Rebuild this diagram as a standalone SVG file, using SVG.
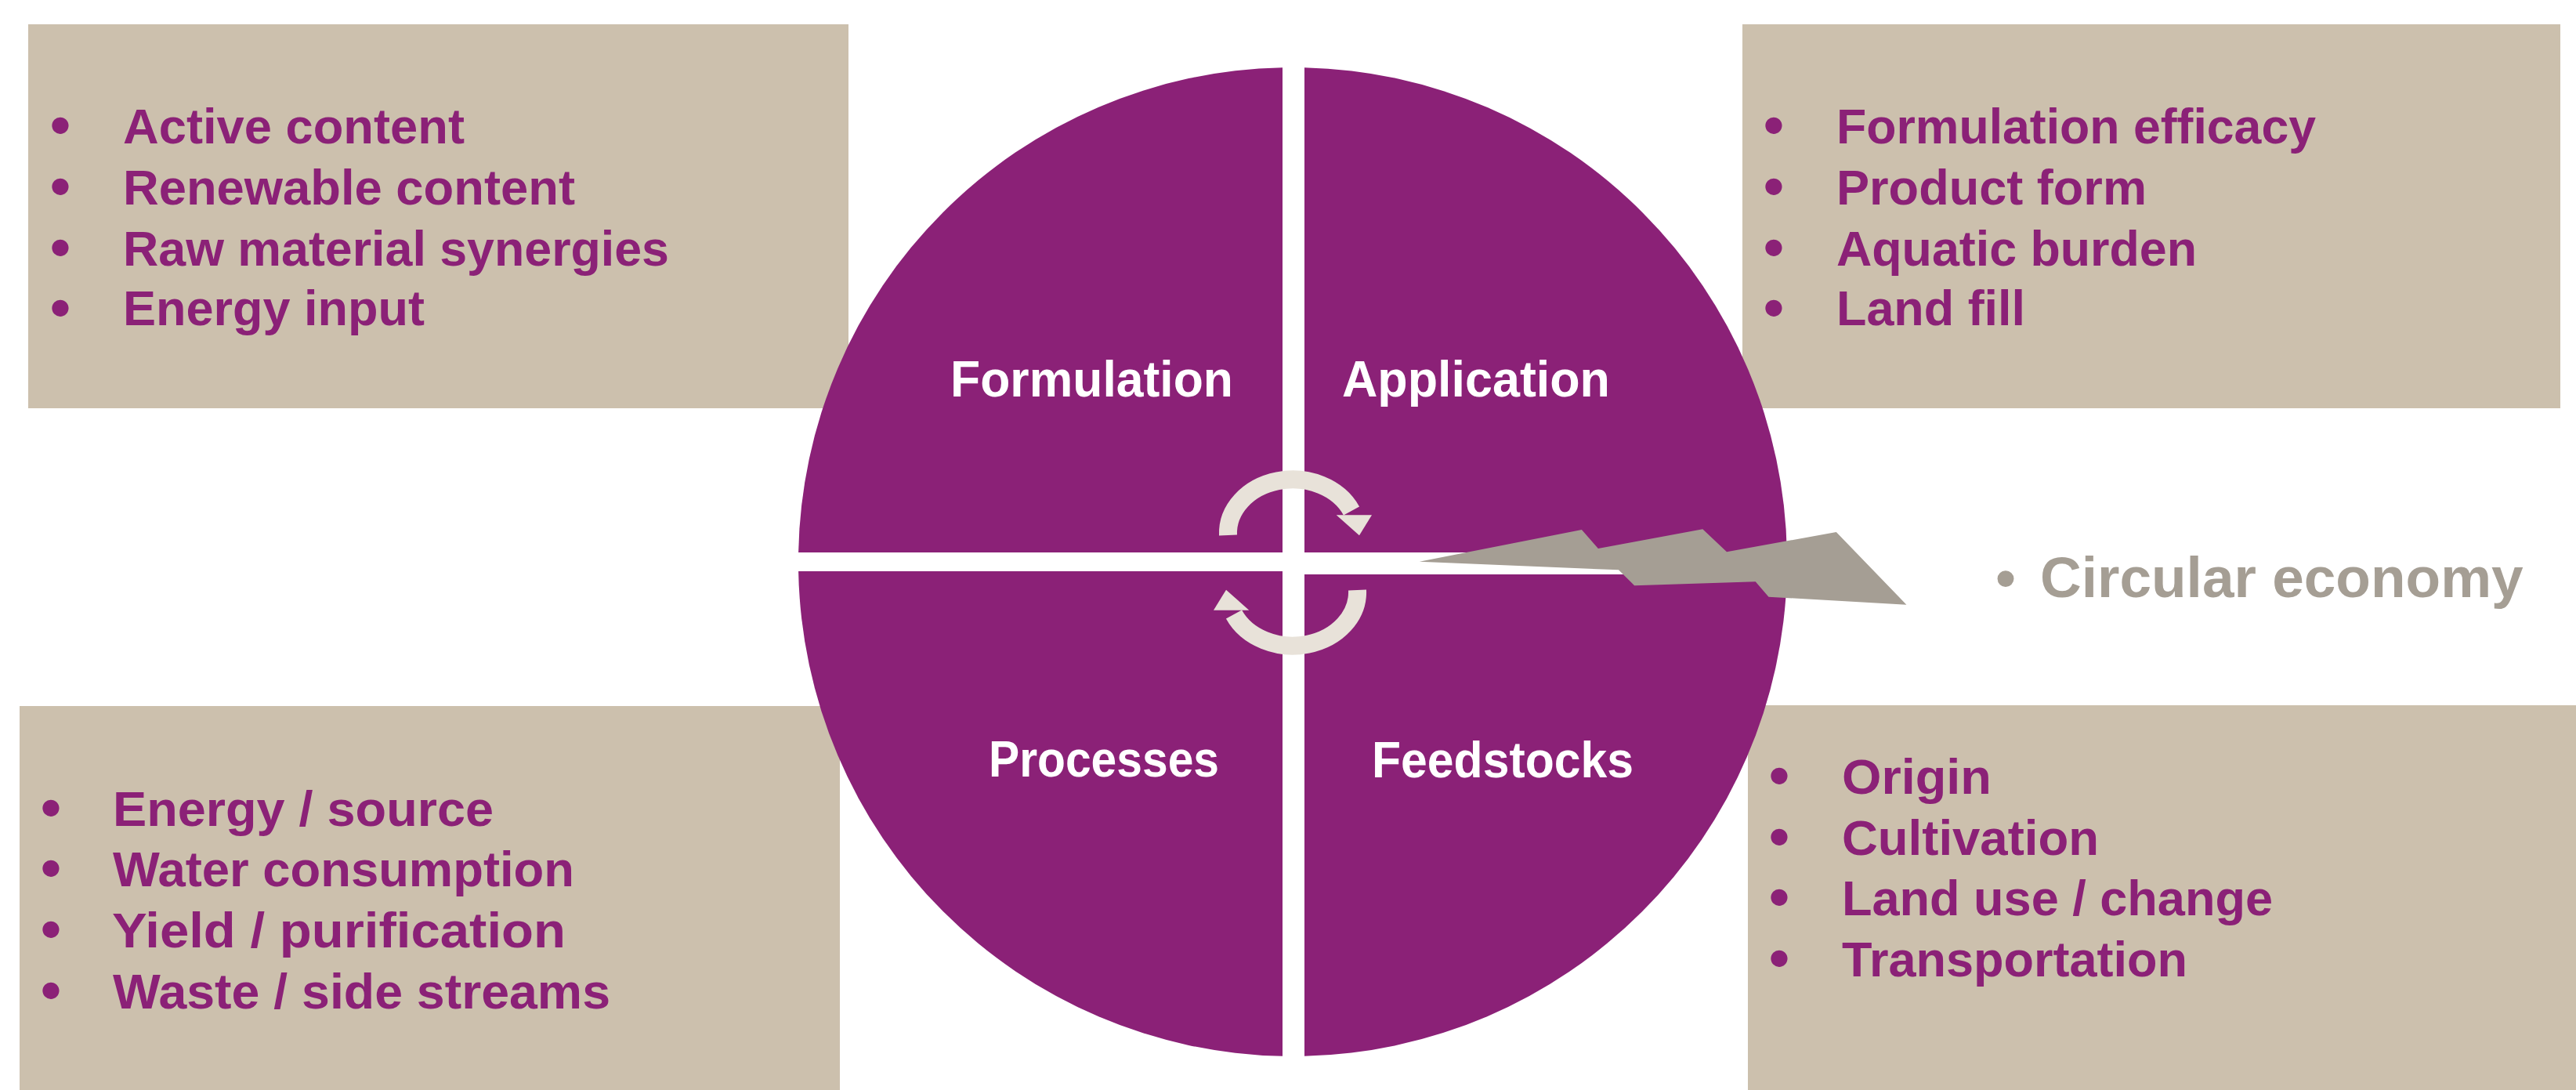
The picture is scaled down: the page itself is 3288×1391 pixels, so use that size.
<svg xmlns="http://www.w3.org/2000/svg" width="3288" height="1391" viewBox="0 0 3288 1391">
  <defs>
    <style>
      .box { fill: #CCC0AD; }
      .quad { fill: #8B2177; }
      .item { font-family: "Liberation Sans", Arial, sans-serif; font-weight: bold; font-size: 63px; fill: #8B2177; }
      .bul { font-family: "Liberation Sans", Arial, sans-serif; font-weight: bold; font-size: 74px; fill: #8B2177; text-anchor: middle; dominant-baseline: central; }
      .qlabel { font-family: "Liberation Sans", Arial, sans-serif; font-weight: bold; font-size: 65px; fill: #FFFFFF; }
      .cyc { fill: none; stroke: #E8E2D9; stroke-width: 23; }
      .cyc-head { fill: #E8E2D9; }
      .bolt { fill: #A59E94; }
      .ce { font-family: "Liberation Sans", Arial, sans-serif; font-weight: bold; font-size: 73px; fill: #A59E94; }
    </style>
  </defs>
  <rect width="3288" height="1391" fill="#FFFFFF"/>

  <g id="box-formulation">
    <rect class="box" x="36" y="31" width="1047" height="490"/>
    <text class="bul" x="77" y="159">•</text>
    <text class="bul" x="77" y="237">•</text>
    <text class="bul" x="77" y="315">•</text>
    <text class="bul" x="77" y="392">•</text>
    <text class="item" x="157" y="183" textLength="436" lengthAdjust="spacingAndGlyphs">Active content</text>
    <text class="item" x="157" y="261" textLength="577" lengthAdjust="spacingAndGlyphs">Renewable content</text>
    <text class="item" x="157" y="339" textLength="697" lengthAdjust="spacingAndGlyphs">Raw material synergies</text>
    <text class="item" x="157" y="415" textLength="385" lengthAdjust="spacingAndGlyphs">Energy input</text>
  </g>

  <g id="box-application">
    <rect class="box" x="2224" y="31" width="1044" height="490"/>
    <text class="bul" x="2264" y="159">•</text>
    <text class="bul" x="2264" y="237">•</text>
    <text class="bul" x="2264" y="315">•</text>
    <text class="bul" x="2264" y="392">•</text>
    <text class="item" x="2344" y="183" textLength="612" lengthAdjust="spacingAndGlyphs">Formulation efficacy</text>
    <text class="item" x="2344" y="261" textLength="396" lengthAdjust="spacingAndGlyphs">Product form</text>
    <text class="item" x="2344" y="339" textLength="460" lengthAdjust="spacingAndGlyphs">Aquatic burden</text>
    <text class="item" x="2344" y="415" textLength="241" lengthAdjust="spacingAndGlyphs">Land fill</text>
  </g>

  <g id="box-processes">
    <rect class="box" x="25" y="901" width="1047" height="490"/>
    <text class="bul" x="65" y="1030">•</text>
    <text class="bul" x="65" y="1107">•</text>
    <text class="bul" x="65" y="1185">•</text>
    <text class="bul" x="65" y="1263">•</text>
    <text class="item" x="144" y="1054" textLength="486" lengthAdjust="spacingAndGlyphs">Energy / source</text>
    <text class="item" x="144" y="1131" textLength="589" lengthAdjust="spacingAndGlyphs">Water consumption</text>
    <text class="item" x="143" y="1209" textLength="579" lengthAdjust="spacingAndGlyphs">Yield / purification</text>
    <text class="item" x="144" y="1287" textLength="635" lengthAdjust="spacingAndGlyphs">Waste / side streams</text>
  </g>

  <g id="box-feedstocks">
    <rect class="box" x="2231" y="900" width="1057" height="491"/>
    <text class="bul" x="2271" y="989">•</text>
    <text class="bul" x="2271" y="1067">•</text>
    <text class="bul" x="2271" y="1144">•</text>
    <text class="bul" x="2271" y="1222">•</text>
    <text class="item" x="2351" y="1013" textLength="191" lengthAdjust="spacingAndGlyphs">Origin</text>
    <text class="item" x="2351" y="1091" textLength="328" lengthAdjust="spacingAndGlyphs">Cultivation</text>
    <text class="item" x="2351" y="1168" textLength="550" lengthAdjust="spacingAndGlyphs">Land use / change</text>
    <text class="item" x="2351" y="1246" textLength="441" lengthAdjust="spacingAndGlyphs">Transportation</text>
  </g>

  <g id="quad-formulation">
    <path class="quad" d="M1637,705 L1637,86.13 A631,631 0 0 0 1019.11,705 Z"/>
    <text class="qlabel" x="1213" y="506" textLength="361" lengthAdjust="spacingAndGlyphs">Formulation</text>
  </g>
  <g id="quad-application">
    <path class="quad" d="M1665,705 L1665,86.18 A631,631 0 0 1 2280.89,705 Z"/>
    <text class="qlabel" x="1713" y="506" textLength="342" lengthAdjust="spacingAndGlyphs">Application</text>
  </g>
  <g id="quad-processes">
    <path class="quad" d="M1637,729 L1019.11,729 A631,631 0 0 0 1637,1347.87 Z"/>
    <text class="qlabel" x="1262" y="991" textLength="294" lengthAdjust="spacingAndGlyphs">Processes</text>
  </g>
  <g id="quad-feedstocks">
    <path class="quad" d="M1665,733 L2280.8,733 A631,631 0 0 1 1665,1347.82 Z"/>
    <text class="qlabel" x="1751" y="992" textLength="334" lengthAdjust="spacingAndGlyphs">Feedstocks</text>
  </g>

  <g id="connectors">
    <g id="cycle-top">
      <path class="cyc" d="M1567.5,683 A82.5,68.5 0 0 1 1725,652"/>
      <polygon class="cyc-head" points="1705.7,657.3 1751,657.3 1735,683.3"/>
    </g>
    <g id="cycle-bottom" transform="rotate(180 1650 718)">
      <path class="cyc" d="M1567.5,683 A82.5,68.5 0 0 1 1725,652"/>
      <polygon class="cyc-head" points="1705.7,657.3 1751,657.3 1735,683.3"/>
    </g>
    <polygon id="bolt" class="bolt" points="1811.8,716.7 2018.9,676 2039.9,700 2173.3,675.3 2204,704.3 2343.8,679 2433.4,771.7 2257.5,761.7 2240.7,742.3 2086.2,747.3 2066,727.3"/>
  </g>

  <g id="circular-economy">
    <text class="ce" x="2560" y="736" style="text-anchor: middle; dominant-baseline: central;">•</text>
    <text class="ce" x="2604" y="762">Circular economy</text>
  </g>
</svg>
